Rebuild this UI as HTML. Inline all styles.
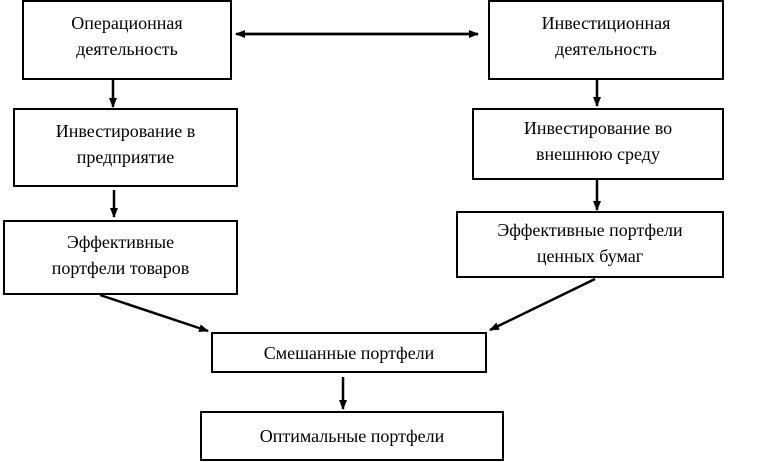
<!DOCTYPE html>
<html><head><meta charset="utf-8"><style>
body{margin:0;background:#fff;width:758px;height:462px;overflow:hidden;position:relative;font-family:"Liberation Serif",serif;}
.b{position:absolute;border:2px solid #000;box-sizing:border-box;display:flex;align-items:center;justify-content:center;text-align:center;font-size:18px;line-height:26px;color:#000;}
svg{position:absolute;left:0;top:0}
</style></head><body>
<div class="b" style="left:22px;top:0;width:210px;height:80px;padding-bottom:8px">Операционная<br>деятельность</div>
<div class="b" style="left:488px;top:0;width:236px;height:80px;padding-bottom:8px">Инвестиционная<br>деятельность</div>
<div class="b" style="left:13px;top:108px;width:225px;height:79px;padding-bottom:8px">Инвестирование в<br>предприятие</div>
<div class="b" style="left:472px;top:108px;width:252px;height:72px;padding-bottom:6px">Инвестирование во<br>внешнюю среду</div>
<div class="b" style="left:3px;top:220px;width:235px;height:75px;padding-bottom:6px">Эффективные<br>портфели товаров</div>
<div class="b" style="left:456px;top:211px;width:268px;height:67px;padding-bottom:4px">Эффективные портфели<br>ценных бумаг</div>
<div class="b" style="left:211px;top:332px;width:276px;height:41px">Смешанные портфели</div>
<div class="b" style="left:200px;top:411px;width:304px;height:50px">Оптимальные портфели</div>
<svg width="758" height="462">
<defs><marker id="a" markerWidth="10" markerHeight="8" refX="9" refY="4" orient="auto" markerUnits="userSpaceOnUse"><path d="M0,0 L10,4 L0,8 Z" fill="#000"/></marker></defs>
<g stroke="#000" stroke-width="2.5" fill="none">
<line x1="245" y1="34" x2="478" y2="34" marker-end="url(#a)"/>
<line x1="478" y1="34" x2="236" y2="34" marker-end="url(#a)"/>
<line x1="113" y1="80" x2="113" y2="107" marker-end="url(#a)"/>
<line x1="114" y1="190" x2="114" y2="217" marker-end="url(#a)"/>
<line x1="597" y1="80" x2="597" y2="106" marker-end="url(#a)"/>
<line x1="597" y1="180" x2="597" y2="210" marker-end="url(#a)"/>
<line x1="343" y1="377" x2="343" y2="409" marker-end="url(#a)"/>
<line x1="100" y1="295" x2="208" y2="331" marker-end="url(#a)"/>
<line x1="595" y1="279" x2="490" y2="330" marker-end="url(#a)"/>
</g></svg>
</body></html>
